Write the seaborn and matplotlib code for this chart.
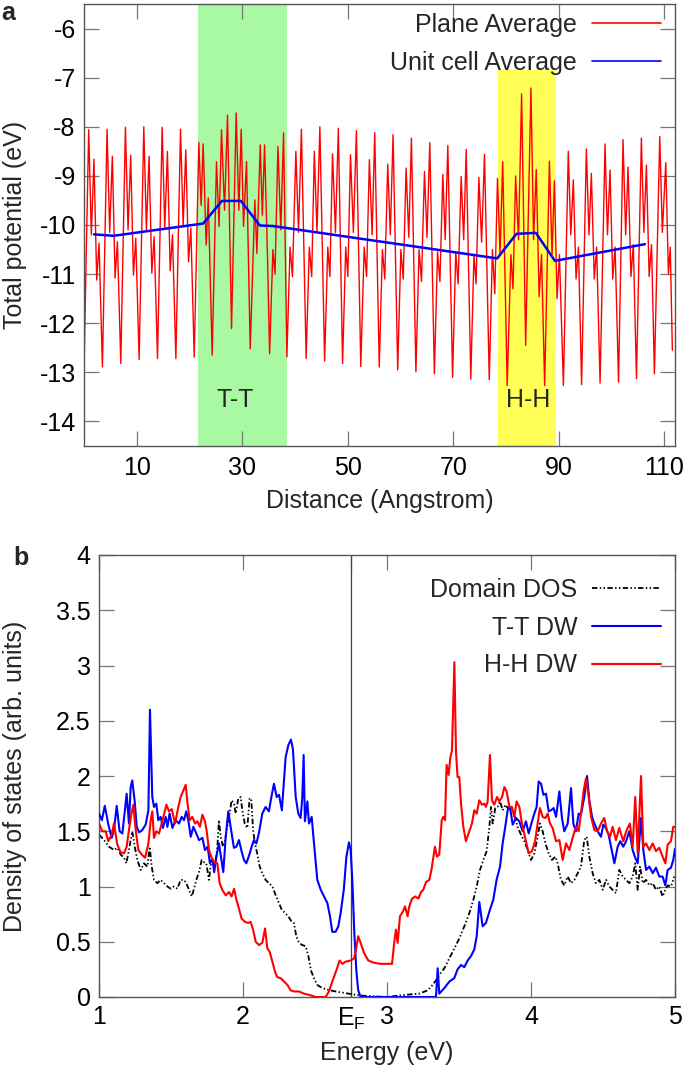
import matplotlib
matplotlib.use("Agg")
import matplotlib.pyplot as plt
from matplotlib.lines import Line2D
from matplotlib.ticker import FormatStrFormatter
import seaborn as sns

# ---------------- Panel a data ----------------
plane_x = [0.0,
 0.89,1.39,1.89,2.41,2.85,3.49,
 4.37,4.87,5.37,5.89,6.33,6.97,
 7.85,8.35,8.85,9.37,9.81,10.45,
 11.33,11.83,12.33,12.85,13.29,13.93,
 14.81,15.31,15.81,16.33,16.77,17.41,
 18.29,18.79,19.29,19.81,20.25,20.89,
 21.76,22.2,22.58,23.15,23.55,24.29,
 25.11,25.6,26.06,26.63,27.2,27.96,
 28.84,29.35,29.79,30.23,30.8,31.5,
 32.38,32.76,33.4,33.8,34.22,34.79,35.17,
 35.8,36.2,36.75,37.3,37.82,38.45,
 39.05,39.5,40.15,40.65,41.2,42.1,
 42.7,43.15,43.65,44.15,44.7,45.6,
 46.2,46.6,47.1,47.65,48.2,49.0,
 49.6,50.0,50.5,51.05,51.62,52.45,
 53.1,53.55,54.08,54.6,55.1,55.95,
 56.55,57.0,57.56,58.05,58.57,59.45,
 60.05,60.5,61.04,61.55,62.05,62.9,
 63.5,63.95,64.52,65.0,65.53,66.4,
 67.0,67.45,68.0,68.45,68.95,69.85,
 70.45,70.9,71.48,71.95,72.43,73.3,
 73.9,74.3,74.83,75.35,75.9,76.8,
 77.4,77.85,78.36,78.85,79.35,80.2,
 80.9,81.3,81.8,82.35,82.93,83.7,
 84.7,85.2,85.71,86.25,86.7,87.3,
 88.2,88.7,89.15,89.65,90.1,90.85,
 91.78,92.25,92.73,93.25,93.7,94.3,
 95.2,95.7,96.15,96.7,97.15,97.8,
 98.74,99.2,99.69,100.2,100.65,101.3,
 102.15,102.65,103.1,103.65,104.1,104.7,
 105.63,106.1,106.58,107.1,107.55,108.1,
 109.11,109.6,110.25,110.75,111.1,111.5]

plane_y = [-12.95,
 -8.06,-10.2,-8.66,-11.12,-10.37,-12.89,
 -8.05,-10.15,-8.6,-11.08,-10.34,-12.82,
 -8.01,-10.1,-8.58,-11.02,-10.27,-12.74,
 -8.0,-10.1,-8.6,-10.98,-10.24,-12.72,
 -8.01,-10.05,-8.5,-10.93,-10.2,-12.72,
 -8.05,-10.0,-8.47,-10.75,-10.06,-12.69,
 -8.32,-9.6,-8.35,-10.41,-9.45,-12.65,
 -8.71,-10.03,-8.06,-9.7,-7.76,-12.11,
 -7.72,-9.7,-8.05,-10.03,-8.71,-12.52,
 -9.49,-10.58,-8.37,-9.8,-8.37,-10.71,-12.62,
 -10.5,-11.0,-8.4,-10.1,-8.12,-12.69,
 -10.45,-11.05,-8.5,-10.15,-8.05,-12.72,
 -10.45,-11.05,-8.5,-10.15,-8.0,-12.77,
 -10.45,-11.05,-8.55,-10.15,-8.03,-12.82,
 -10.45,-11.05,-8.57,-10.15,-8.08,-12.88,
 -10.45,-11.05,-8.67,-10.2,-8.12,-12.89,
 -10.5,-11.1,-8.76,-10.2,-8.16,-12.95,
 -10.5,-11.1,-8.84,-10.25,-8.23,-12.99,
 -10.5,-11.15,-8.91,-10.25,-8.32,-13.03,
 -10.55,-11.15,-8.97,-10.3,-8.38,-13.1,
 -10.55,-11.2,-9.01,-10.3,-8.46,-13.14,
 -10.6,-11.2,-9.03,-10.35,-8.56,-13.15,
 -10.5,-11.4,-9.05,-10.6,-8.71,-13.27,
 -10.6,-11.3,-9.0,-10.3,-7.33,-12.45,
 -7.21,-10.3,-8.87,-11.46,-10.6,-13.27,
 -8.7,-10.6,-9.1,-11.5,-10.6,-13.27,
 -8.5,-10.2,-9.08,-11.1,-10.45,-13.25,
 -8.45,-10.2,-8.95,-11.1,-10.45,-13.22,
 -8.35,-10.2,-8.88,-11.1,-10.45,-13.2,
 -8.26,-10.2,-8.82,-11.05,-10.4,-13.13,
 -8.23,-10.15,-8.78,-11.05,-10.4,-13.03,
 -8.2,-10.15,-8.73,-11.0,-10.45,-12.55]

cell_x = [1.9, 5.57, 22.58, 26.12, 29.73, 33.33, 35.74, 78.3, 81.96, 85.63, 89.24, 106.3]
cell_y = [-10.19, -10.22, -9.97, -9.51, -9.51, -10.01, -10.02, -10.68, -10.18, -10.16, -10.73, -10.39]

wall_spans = [(21.6, 38.5, -14.5, -5.5), (78.4, 89.4, -14.5, -6.85)]
wall_labels = ["T-T", "H-H"]
wall_label_x = [28.6, 84.2]
wall_label_y = -13.57

# ---------------- Panel b data ----------------
tt_e = [1.0,1.02,1.04,1.065,1.088,1.104,1.123,1.143,1.162,1.18,1.192,1.208,1.22,1.231,1.248,1.262,
        1.278,1.30,1.324,1.343,1.354,1.37,1.382,1.398,1.412,1.428,1.444,1.463,1.475,1.49,1.51,1.532,
        1.556,1.574,1.59,1.606,1.62,1.637,1.655,1.676,1.694,1.718,1.736,1.755,1.77,1.787,1.80,1.815,
        1.833,1.847,1.863,1.88,1.898,1.914,1.937,1.954,1.972,1.99,2.007,2.023,2.042,2.06,2.076,2.093,
        2.11,2.134,2.157,2.18,2.197,2.215,2.234,2.25,2.27,2.28,2.296,2.315,2.333,2.347,2.366,2.384,
        2.40,2.412,2.421,2.43,2.447,2.458,2.477,2.493,2.516,2.54,2.563,2.586,2.604,2.62,2.643,2.662,
        2.678,2.70,2.718,2.736,2.748,2.76,2.773,2.787,2.80,2.817,3.34,
        3.352,3.363,3.398,3.433,3.467,3.49,3.514,3.537,3.56,3.583,3.606,3.623,3.641,3.664,3.687,3.715,
        3.738,3.761,3.785,3.803,3.82,3.838,3.854,3.873,3.896,3.919,3.942,3.965,3.984,4.007,4.023,4.039,
        4.053,4.07,4.086,4.104,4.123,4.139,4.157,4.174,4.197,4.215,4.231,4.255,4.278,4.294,4.312,4.331,
        4.347,4.37,4.389,4.405,4.424,4.44,4.463,4.486,4.502,4.52,4.539,4.556,4.579,4.602,4.62,4.641,
        4.66,4.683,4.706,4.724,4.741,4.764,4.78,4.799,4.822,4.845,4.868,4.891,4.914,4.933,4.949,4.972,
        4.988,5.0]
tt_dos = [1.66,1.60,1.73,1.56,1.44,1.51,1.73,1.50,1.48,1.69,1.84,1.57,1.90,1.96,1.77,1.54,
          1.49,1.51,1.56,1.69,2.60,1.81,1.72,1.75,1.60,1.63,1.53,1.63,1.54,1.66,1.53,1.60,
          1.57,1.63,1.60,1.68,1.60,1.45,1.54,1.48,1.42,1.44,1.33,1.36,1.21,1.25,1.13,1.27,
          1.39,1.27,1.13,1.45,1.68,1.54,1.35,1.36,1.42,1.32,1.24,1.21,1.28,1.36,1.42,1.39,
          1.48,1.66,1.72,1.68,1.81,1.93,1.81,1.83,1.69,1.87,2.17,2.28,2.33,2.24,1.81,1.66,
          1.62,1.81,2.19,1.59,1.77,1.57,1.63,1.39,1.06,0.97,0.91,0.85,0.73,0.59,0.59,0.64,
          0.76,0.97,1.27,1.40,1.33,1.03,0.58,0.24,0.06,0.0,0.0,
          0.26,0.03,0.08,0.14,0.17,0.25,0.29,0.27,0.33,0.37,0.43,0.55,0.86,0.64,0.67,0.79,
          0.88,1.06,1.18,1.39,1.53,1.69,1.72,1.56,1.62,1.59,1.50,1.59,1.48,1.59,1.66,1.72,
          1.95,1.93,1.83,1.84,1.68,1.69,1.71,1.63,1.86,1.62,1.50,1.57,1.89,1.57,1.50,1.66,
          1.65,1.81,2.0,1.78,1.63,1.57,1.50,1.45,1.56,1.53,1.47,1.36,1.21,1.36,1.41,1.36,
          1.41,1.50,1.33,1.26,1.21,1.62,1.33,1.15,1.18,1.12,1.17,1.09,1.09,1.01,1.15,1.17,
          1.24,1.34]

hh_e = [1.0,1.023,1.046,1.065,1.088,1.104,1.127,1.15,1.174,1.192,1.208,1.224,1.238,1.255,1.273,1.296,
        1.32,1.343,1.359,1.37,1.382,1.398,1.417,1.433,1.451,1.468,1.486,1.505,1.528,1.551,1.567,1.586,
        1.602,1.613,1.63,1.648,1.667,1.683,1.701,1.718,1.736,1.748,1.764,1.782,1.80,1.822,1.838,1.856,
        1.88,1.903,1.921,1.938,1.954,1.972,1.99,2.014,2.037,2.053,2.07,2.088,2.111,2.134,2.153,2.169,
        2.185,2.204,2.222,2.238,2.262,2.285,2.308,2.331,2.354,2.389,2.424,2.458,2.505,2.574,2.597,2.62,
        2.648,2.671,2.69,2.713,2.748,2.771,2.782,2.80,2.817,2.84,2.87,2.91,2.956,3.035,3.05,3.062,
        3.074,3.09,3.109,3.125,3.143,3.155,3.174,3.197,3.218,3.236,3.252,3.271,3.294,3.31,3.333,3.347,
        3.363,3.38,3.391,3.403,3.414,3.428,3.44,3.451,3.468,3.479,3.49,3.502,3.514,3.53,3.548,3.572,
        3.59,3.606,3.623,3.641,3.66,3.676,3.687,3.699,3.715,3.729,3.745,3.764,3.78,3.799,3.815,3.831,
        3.85,3.868,3.884,3.90,3.919,3.937,3.96,3.984,4.007,4.028,4.046,4.062,4.081,4.10,4.116,4.132,
        4.15,4.174,4.197,4.22,4.243,4.266,4.289,4.312,4.331,4.347,4.366,4.382,4.398,4.417,4.44,4.463,
        4.486,4.509,4.528,4.549,4.567,4.59,4.613,4.641,4.664,4.687,4.706,4.724,4.741,4.764,4.78,4.799,
        4.822,4.845,4.868,4.891,4.914,4.933,4.949,4.972,4.988,5.0]
hh_dos = [1.57,1.50,1.50,1.41,1.47,1.57,1.38,1.31,1.30,1.36,1.51,1.65,1.74,1.51,1.33,1.29,
          1.26,1.39,1.60,1.68,1.44,1.50,1.48,1.56,1.65,1.74,1.68,1.70,1.57,1.72,1.81,1.87,
          1.92,1.77,1.60,1.63,1.57,1.59,1.54,1.65,1.59,1.50,1.33,1.26,1.22,1.21,1.03,0.97,
          0.92,0.95,0.91,0.98,0.88,0.80,0.71,0.68,0.67,0.68,0.61,0.50,0.47,0.49,0.62,0.44,
          0.41,0.32,0.23,0.18,0.17,0.14,0.11,0.06,0.05,0.05,0.03,0.02,0.0,0.0,0.05,0.14,
          0.24,0.33,0.30,0.32,0.33,0.35,0.41,0.55,0.49,0.40,0.33,0.31,0.30,0.30,0.49,0.61,
          0.49,0.73,0.77,0.82,0.73,0.82,0.89,0.91,0.89,0.95,0.97,1.04,1.06,1.16,1.36,1.27,
          1.29,1.60,1.63,1.60,2.10,2.01,2.17,2.23,3.03,2.22,1.99,1.99,1.75,1.54,1.41,1.50,
          1.57,1.69,1.66,1.78,1.74,1.75,1.72,1.77,2.19,1.78,1.74,1.81,1.77,1.81,1.90,1.86,
          1.72,1.72,1.63,1.77,1.72,1.57,1.44,1.30,1.32,1.41,1.57,1.71,1.63,1.62,1.66,1.57,
          1.53,1.41,1.42,1.24,1.39,1.33,1.44,1.54,1.50,1.66,1.87,1.98,1.84,1.63,1.51,1.50,
          1.57,1.62,1.50,1.45,1.54,1.42,1.53,1.41,1.51,1.57,1.36,1.81,1.30,2.0,1.36,1.39,
          1.33,1.39,1.32,1.35,1.27,1.21,1.38,1.41,1.54,1.54]

dom_e = [1.0,1.035,1.07,1.104,1.127,1.15,1.174,1.19,1.208,1.231,1.25,1.266,1.29,1.312,1.336,1.352,
         1.366,1.382,1.405,1.428,1.451,1.475,1.498,1.52,1.544,1.567,1.59,1.606,1.625,1.644,1.66,1.676,
         1.694,1.713,1.73,1.745,1.764,1.775,1.792,1.806,1.822,1.833,1.845,1.861,1.875,1.891,1.907,1.921,
         1.938,1.949,1.968,1.984,1.995,2.012,2.03,2.046,2.058,2.07,2.083,2.10,2.116,2.134,2.157,2.18,
         2.204,2.227,2.25,2.269,2.292,2.315,2.338,2.354,2.37,2.389,2.412,2.435,2.454,2.472,2.493,2.516,
         2.539,2.574,2.609,2.643,2.69,2.736,2.782,2.85,3.0,3.132,3.224,3.282,3.317,3.34,3.363,3.398,
         3.433,3.468,3.502,3.537,3.572,3.60,3.623,3.646,3.669,3.692,3.711,3.722,3.734,3.752,3.768,3.785,
         3.803,3.822,3.838,3.861,3.884,3.907,3.93,3.954,3.977,4.0,4.023,4.046,4.062,4.081,4.10,4.123,
         4.146,4.169,4.185,4.208,4.231,4.255,4.278,4.301,4.324,4.347,4.37,4.387,4.405,4.428,4.451,4.475,
         4.498,4.521,4.544,4.567,4.59,4.613,4.637,4.66,4.683,4.706,4.724,4.741,4.757,4.776,4.799,4.822,
         4.845,4.868,4.891,4.914,4.933,4.949,4.972,4.995]
dom_dos = [1.47,1.42,1.36,1.33,1.35,1.29,1.26,1.21,1.33,1.50,1.35,1.24,1.15,1.21,1.18,1.36,
           1.18,1.06,1.03,1.06,1.03,1.0,0.98,1.0,0.98,1.06,1.06,1.03,0.97,0.91,0.98,1.06,
           1.13,1.24,1.22,1.21,1.06,1.19,1.24,1.18,1.36,1.60,1.45,1.36,1.42,1.54,1.66,1.78,
           1.75,1.66,1.80,1.81,1.69,1.57,1.53,1.80,1.78,1.51,1.39,1.29,1.18,1.12,1.06,1.03,
           1.0,0.92,0.85,0.79,0.76,0.73,0.68,0.67,0.55,0.49,0.47,0.46,0.37,0.24,0.17,0.11,
           0.09,0.07,0.06,0.05,0.04,0.03,0.02,0.01,0.0,0.02,0.03,0.06,0.11,0.15,0.20,0.26,
           0.35,0.44,0.53,0.64,0.76,0.88,1.0,1.15,1.24,1.32,1.54,1.72,1.57,1.71,1.72,1.77,
           1.69,1.74,1.71,1.72,1.65,1.54,1.47,1.41,1.33,1.24,1.30,1.45,1.57,1.50,1.39,1.30,
           1.24,1.27,1.21,1.06,1.01,1.09,1.03,1.06,1.12,1.18,1.42,1.45,1.27,1.12,1.03,1.06,
           0.97,1.06,1.0,0.97,0.94,1.15,1.09,1.06,1.03,1.09,1.21,0.97,1.18,1.03,1.06,1.01,
           1.03,0.97,1.0,0.91,0.97,1.01,1.0,1.09]

fermi_level = 2.75
dos_ticks = [1, 2, fermi_level, 3, 4, 5]
dos_tick_labels = ["1", "2", "E$_{\\mathregular{F}}$", "3", "4", "5"]

# ---------------- Style ----------------
sns.set_style("ticks")
plt.rcParams['font.family'] = ['Liberation Sans', 'DejaVu Sans']
plt.rcParams['mathtext.fontset'] = 'custom'
plt.rcParams['mathtext.rm'] = 'Liberation Sans'
plt.rcParams['axes.unicode_minus'] = False
FS = 18
SPINE = '#555555'
TICKC = '#777777'

W, H = 685, 1067
fig = plt.figure(figsize=(W / 100, H / 100), dpi=100)
ax1 = fig.add_axes([84 / W, 1 - 446 / H, (675 - 84) / W, (446 - 4) / H])
ax2 = fig.add_axes([99 / W, 1 - 997 / H, (675 - 99) / W, (997 - 555) / H])

def style_axes(ax):
    for s in ax.spines.values():
        s.set_color(SPINE)
        s.set_linewidth(1.0)
        s.set_visible(True)
    ax.tick_params(direction='in', length=10.5, width=0.9, color=TICKC,
                   top=True, right=True, labelsize=FS, labelcolor='black')
    ax.tick_params(axis='y', pad=6)

# ---------------- Panel a ----------------
colors_wall = ['#a8f9a2', '#ffff55']
for (x0, x1, y0, y1), c in zip(wall_spans, colors_wall):
    ax1.fill_between([x0, x1], [y0, y0], [y1, y1], color=c, linewidth=0, zorder=0)
sns.lineplot(x=plane_x, y=plane_y, ax=ax1, color='#ff0000', linewidth=1.0,
             sort=False, estimator=None, legend=False, zorder=2)
sns.lineplot(x=cell_x, y=cell_y, ax=ax1, color='#0000ff', linewidth=1.8,
             sort=False, estimator=None, legend=False, zorder=3)
for lab, lx in zip(wall_labels, wall_label_x):
    ax1.text(lx, wall_label_y, lab, ha='center', va='center', fontsize=FS)
ax1.set_xlim(0, 112)
ax1.set_ylim(-14.5, -5.5)
ax1.set_xticks([10, 30, 50, 70, 90, 110])
ax1.set_yticks([-14, -13, -12, -11, -10, -9, -8, -7, -6])
ax1.yaxis.set_major_formatter(FormatStrFormatter('%g'))
style_axes(ax1)
ax1.tick_params(axis='x', pad=7.5)
ax1.set_xlabel(''); ax1.set_ylabel('')
h1 = [Line2D([], [], color='#ff0000', lw=1.2), Line2D([], [], color='#0000ff', lw=1.2)]
ax1.legend(h1, ['Plane Average', 'Unit cell Average'], loc='upper right',
           bbox_to_anchor=(661 / W, 1 - 13 / H), bbox_transform=fig.transFigure,
           markerfirst=False, frameon=False, fontsize=FS, handlelength=2.75,
           handletextpad=0.6, labelspacing=0.55, borderpad=0, borderaxespad=0)

# ---------------- Panel b ----------------
ax2.axvline(fermi_level, color='#444444', lw=0.9, zorder=1)
dash = (0, (3.0, 1.3, 0.8, 1.3, 0.8, 1.3))
sns.lineplot(x=dom_e, y=dom_dos, ax=ax2, color='black', linewidth=1.3, linestyle=dash,
             sort=False, estimator=None, legend=False, zorder=2)
sns.lineplot(x=tt_e, y=tt_dos, ax=ax2, color='#0000ff', linewidth=1.5,
             sort=False, estimator=None, legend=False, zorder=3)
sns.lineplot(x=hh_e, y=hh_dos, ax=ax2, color='#ff0000', linewidth=1.5,
             sort=False, estimator=None, legend=False, zorder=4)
ax2.set_xlim(1, 5)
ax2.set_ylim(0, 4)
ax2.set_xticks(dos_ticks)
ax2.set_xticklabels(dos_tick_labels)
ax2.set_yticks([0, 0.5, 1, 1.5, 2, 2.5, 3, 3.5, 4])
ax2.yaxis.set_major_formatter(FormatStrFormatter('%g'))
style_axes(ax2)
ax2.tick_params(axis='x', pad=6)
ax2.set_xlabel(''); ax2.set_ylabel('')
h2 = [Line2D([], [], color='black', lw=1.3, linestyle=dash),
      Line2D([], [], color='#0000ff', lw=1.5), Line2D([], [], color='#ff0000', lw=1.5)]
ax2.legend(h2, ['Domain DOS', 'T-T DW', 'H-H DW'], loc='upper right',
           bbox_to_anchor=(661 / W, 1 - 578 / H), bbox_transform=fig.transFigure,
           markerfirst=False, frameon=False, fontsize=FS, handlelength=2.75,
           handletextpad=0.6, labelspacing=0.55, borderpad=0, borderaxespad=0)

# ---------------- Labels ----------------
fig.text(15 / W, 1 - 225 / H, 'Total potential (eV)', rotation=90, ha='center', va='center', fontsize=FS)
fig.text(380 / W, 1 - 501 / H, 'Distance (Angstrom)', ha='center', va='center', fontsize=FS)
fig.text(15 / W, 1 - 776 / H, 'Density of states (arb. units)', rotation=90, ha='center', va='center', fontsize=FS)
fig.text(387 / W, 1 - 1053 / H, 'Energy (eV)', ha='center', va='center', fontsize=FS)
fig.text(1 / W, 1 - 1 / H, 'a', fontweight='bold', ha='left', va='top', fontsize=FS)
fig.text(13 / W, 1 - 565 / H, 'b', fontweight='bold', ha='left', va='baseline', fontsize=FS)

fig.savefig('out.png', dpi=100)
